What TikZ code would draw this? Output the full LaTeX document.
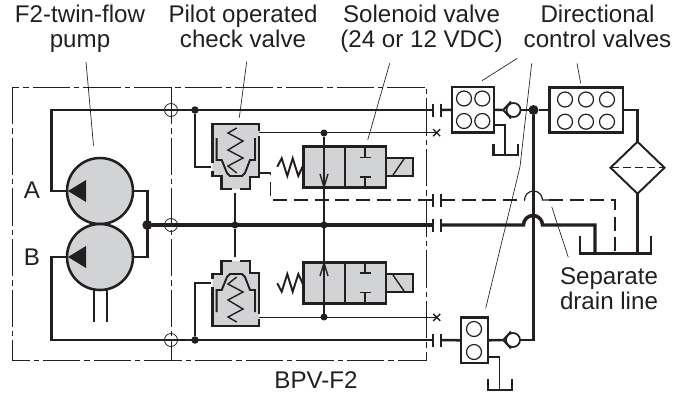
\documentclass[tikz,border=0pt]{standalone}
\usepackage{fontspec}
\setmainfont{Liberation Sans}
\usetikzlibrary{shapes.geometric}
\definecolor{ink}{HTML}{231F20}
\definecolor{body}{HTML}{D1D3D4}
\tikzset{
  every path/.style={draw=ink,line cap=butt,line join=miter},
  lab/.style={draw=none,text=ink,font=\fontsize{18.1}{18.75}\selectfont,align=center,inner sep=0,outer sep=0},
  wheavy/.style={line width=2.6pt},
  wmain/.style={line width=1.9pt},
  wmed/.style={line width=1.45pt},
  wfine/.style={line width=1.05pt},
  leader/.style={line width=.5pt},
  border/.style={line width=.65pt,dash pattern=on 28pt off 3pt on 4pt off 3pt},
  drain/.style={line width=.9pt,dash pattern=on 10.5pt off 5pt},
  dot/.style={circle,fill=ink,draw=none,inner sep=0,outer sep=0},
  pumpc/.style={circle,draw=ink,fill=body,line width=1.9pt,minimum size=66*.75pt,inner sep=0,outer sep=0},
  block/.style={rectangle,draw=ink,fill=white,line width=1.9pt,inner sep=0,outer sep=0},
  port/.style={circle,draw=ink,fill=white,line width=.9pt,minimum size=15*.75pt,inner sep=0,outer sep=0},
  ring/.style={circle,draw=ink,fill=none,line width=.6pt,minimum size=13*.75pt,inner sep=0,outer sep=0},
  ckc/.style={circle,draw=ink,fill=white,line width=1.3pt,minimum size=14*.75pt,inner sep=0,outer sep=0},
}
\newcommand{\valvepair}[1]{%
  \begin{scope}[#1]
    % pilot check valve
    \path[fill=body,draw=none] (212.3,124)--(259,124)--(259,177)--(250,177)--(250,189)--(221.7,189)--(221.7,176)--(212.3,176)--cycle;
    \draw[wmain] (259,131)--(259,124)--(212.3,124)--(212.3,163);
    \draw[wmain] (212.3,171)--(212.3,176)--(221.7,176)--(221.7,189)--(232,189);
    \draw[wmain] (240,189)--(250,189)--(250,177)--(259,177)--(259,136);
    \draw[wmed] (216.7,138)--(216.7,160)--(221.7,160)--(227,173)--(230,176)--(242,176)--(245,173)--(250,160)--(255,160)--(255,138);
    \draw[wfine] (236.7,128)--(228,133)--(243,141)--(228,150)--(243,158)--(228,166)--(236.7,173);
    % solenoid valve
    \path[fill=body,draw=ink,wmain] (303.5,146.7) rectangle (386,187.7);
    \draw[wmain] (345,146.7)--(345,187.7);
    \path[fill=body,draw=ink,wmain] (386,158) rectangle (413,176);
    \draw[wfine] (393,175)--(404,159);
    \draw[wfine] (365,146.7)--(365,157.5) (359.5,157.5)--(370.5,157.5);
    \draw[wfine] (365,187.7)--(365,177) (359.5,177)--(370.5,177);
    \draw[wmed] (277.3,166.7)--(281.7,158.3)--(287.3,176)--(292.7,158.3)--(298.3,176)--(303.3,165);
    \draw[wfine] (320,174)--(324,187)--(328,174);
  \end{scope}}
\begin{document}
\begin{tikzpicture}[x=.75pt,y=-.75pt]
\useasboundingbox[draw=none] (0,0) rectangle (688,394);
% envelope
\draw[border] (12,87) rectangle (426.7,360);
\draw[border] (171,87)--(171,360);
% valves
\valvepair{}
\valvepair{shift={(0,450)},yscale=-1}
% pumps
\node[pumpc] (pa) at (100,191) {};
\node[pumpc] (pb) at (100,257) {};
\path[fill=ink,draw=none] (68,191)--(86,180)--(86,202)--cycle;
\path[fill=ink,draw=none] (68,257)--(86,246)--(86,268)--cycle;
% coordinates
\coordinate (top) at (51.5,110);
\coordinate (bot) at (51.5,340);
\node[dot,minimum size=10*.75pt] (jt) at (147.3,225) {};
\node[dot,minimum size=7.5*.75pt] (ja) at (195,110) {};
\node[dot,minimum size=7.5*.75pt] (jb) at (195,340) {};
\node[dot,minimum size=7*.75pt] (jc) at (235,225) {};
\node[dot,minimum size=7*.75pt] (jd) at (324,225) {};
\node[dot,minimum size=7*.75pt] (je) at (324,133) {};
\node[dot,minimum size=7*.75pt] (jf) at (324,317) {};
\node[dot,minimum size=10*.75pt] (jg) at (533.5,110) {};
\coordinate (bar1) at (433,110);
\coordinate (bar1b) at (441,110);
\coordinate (bar2) at (433,200);
\coordinate (bar2b) at (441,200);
\coordinate (bar3) at (433,225);
\coordinate (bar3b) at (441,225);
\coordinate (bar4) at (433,340);
\coordinate (bar4b) at (441,340);
% main lines
\draw[wmain] (bar1)--(top)--(51.5,191)--(pa.west);
\draw[wmain] (bar4)--(bot)--(51.5,257)--(pb.west);
\draw[wmain] (pa.east)--(147.3,191)--(147.3,257)--(pb.east);
\draw[wheavy] (jt)--(bar3);
\draw[wmain] (ja)--(195,167)--(211,167);
\draw[wmain] (jb)--(195,283)--(211,283);
\draw[wmain] (94,289)--(94,322) (107,289)--(107,322);
\draw[wmed] (jc)--(235,193);
\draw[wmed] (jc)--(235,257);
% pilot lines
\coordinate (xa) at (436.7,132.7);
\coordinate (xb) at (436.7,317.3);
\draw[wfine] (259,132.7)--(xa);
\draw[wfine] (259,317.3)--(xb);
\draw[wfine] (xa)+(-3.5,-3.5)--+(3.5,3.5) (xa)+(-3.5,3.5)--+(3.5,-3.5);
\draw[wfine] (xb)+(-3.5,-3.5)--+(3.5,3.5) (xb)+(-3.5,3.5)--+(3.5,-3.5);
\draw[wfine] (je)--(jf);
% rings
\node[ring] (r1) at (171,110) {};
\node[ring] (r2) at (171,225) {};
\node[ring] (r3) at (171,340) {};
% separable bars
\foreach \n in {bar1,bar1b,bar2,bar2b,bar3,bar3b,bar4,bar4b}{
  \draw[wfine] (\n)+(0,-6.5)--+(0,6.5);}
% directional blocks
\node[block,minimum width=42*.75pt,minimum height=45.5*.75pt] (dva) at (473,109.8) {};
\foreach \x/\y in {464/98.5,482.3/98.5,464/121,482.3/121}{\node[port] at (\x,\y) {};}
\node[block,minimum width=73.5*.75pt,minimum height=45.5*.75pt] (dvb) at (586.2,110) {};
\foreach \x/\y in {565/99.5,586/99.5,607/99.5,565/121.7,586/121.7,607/121.7}{\node[port] at (\x,\y) {};}
\node[block,minimum width=27*.75pt,minimum height=45.5*.75pt] (dvc) at (474.5,340.3) {};
\foreach \x/\y in {474/329,474/352}{\node[port] at (\x,\y) {};}
% check valves
\draw[wmain] (dva.east)--(502.7,110);
\draw[wmain] (dvc.east)--(502.7,340);
\node[ckc] (cka) at (513.5,110) {};
\node[ckc] (ckb) at (513,340) {};
\draw[wmed] (511,101.5)--(503.2,110)--(511,118.5);
\draw[wmed] (511,331.5)--(503.2,340)--(511,348.5);
\draw[wmain] (bar1b)--(dva.west);
\draw[wmain] (cka.east)--(jg)--(dvb.west);
\draw[wmain] (bar4b)--(dvc.west);
\draw[wmain] (ckb.east)--(533.5,340)--(jg);
% drains to small tanks
\draw[wmed] (494,125)--(505,125)--(505,155);
\draw[wmain] (493.5,144)--(493.5,155)--(518,155)--(518,144);
\draw[wmed] (488,357)--(499.5,357)--(499.5,390);
\draw[wmain] (488,379)--(488,390)--(512,390)--(512,379);
% filter
\node[diamond,draw=ink,fill=white,line width=1.45pt,minimum width=54*.75pt,minimum height=52*.75pt,inner sep=0,outer sep=0,aspect=1.04] (flt) at (637.5,167.7) {};
\draw[line width=.8pt,dash pattern=on 6pt off 3pt] (flt.west)--(flt.east);
\draw[wmain] (dvb.east)--(637.5,110)--(flt.north);
\draw[wmain] (flt.south)--(637.5,253.5);
% main return with hump
\draw[wheavy] (bar3b)--(523.5,225) arc[start angle=180,end angle=360,radius=9.5]--(595,225)--(595,253.5);
% tank
\draw[wmain] (580,236)--(580,253.5)--(651,253.5)--(651,236);
% separate drain
\draw[drain] (259,173)--(270.7,173)--(270.7,200)--(bar2);
\draw[drain] (bar2b)--(524.5,200);
\draw[line width=.9pt] (524.5,200) arc[start angle=180,end angle=360,radius=9]--(549,200);
\draw[drain] (549,200)--(615,200)--(615,253.5);
% leaders
\draw[leader] (86,61.7)--(93.5,145.6);
\draw[leader] (246.7,61.7)--(239.3,117.7);
\draw[leader] (389.7,63.3)--(367.7,140);
\draw[leader] (517.3,58.3)--(482,80.7);
\draw[leader] (531.7,63.3)--(520,166.7)--(485.7,308.3);
\draw[leader] (577,63.3)--(580.7,83.3);
\draw[leader] (551.7,206.7)--(568.3,257.3);
% text
\node[lab,anchor=base] (t1) at (80,47.7) {F2-twin-flow\\pump};
\node[lab,anchor=base] (t2) at (243,47.7) {Pilot operated\\check valve};
\node[lab,anchor=base] (t3) at (421.5,47.7) {Solenoid valve\\(24 or 12 VDC)};
\node[lab,anchor=base] (t4) at (597.5,47.7) {Directional\\control valves};
\node[lab,anchor=base] (t5) at (609,309) {Separate\\drain line};
\node[lab,anchor=base] (t6) at (32,198) {A};
\node[lab,anchor=base] (t7) at (32,265) {B};
\node[lab,anchor=base] (t8) at (316,388) {BPV-F2};
\end{tikzpicture}
\end{document}
